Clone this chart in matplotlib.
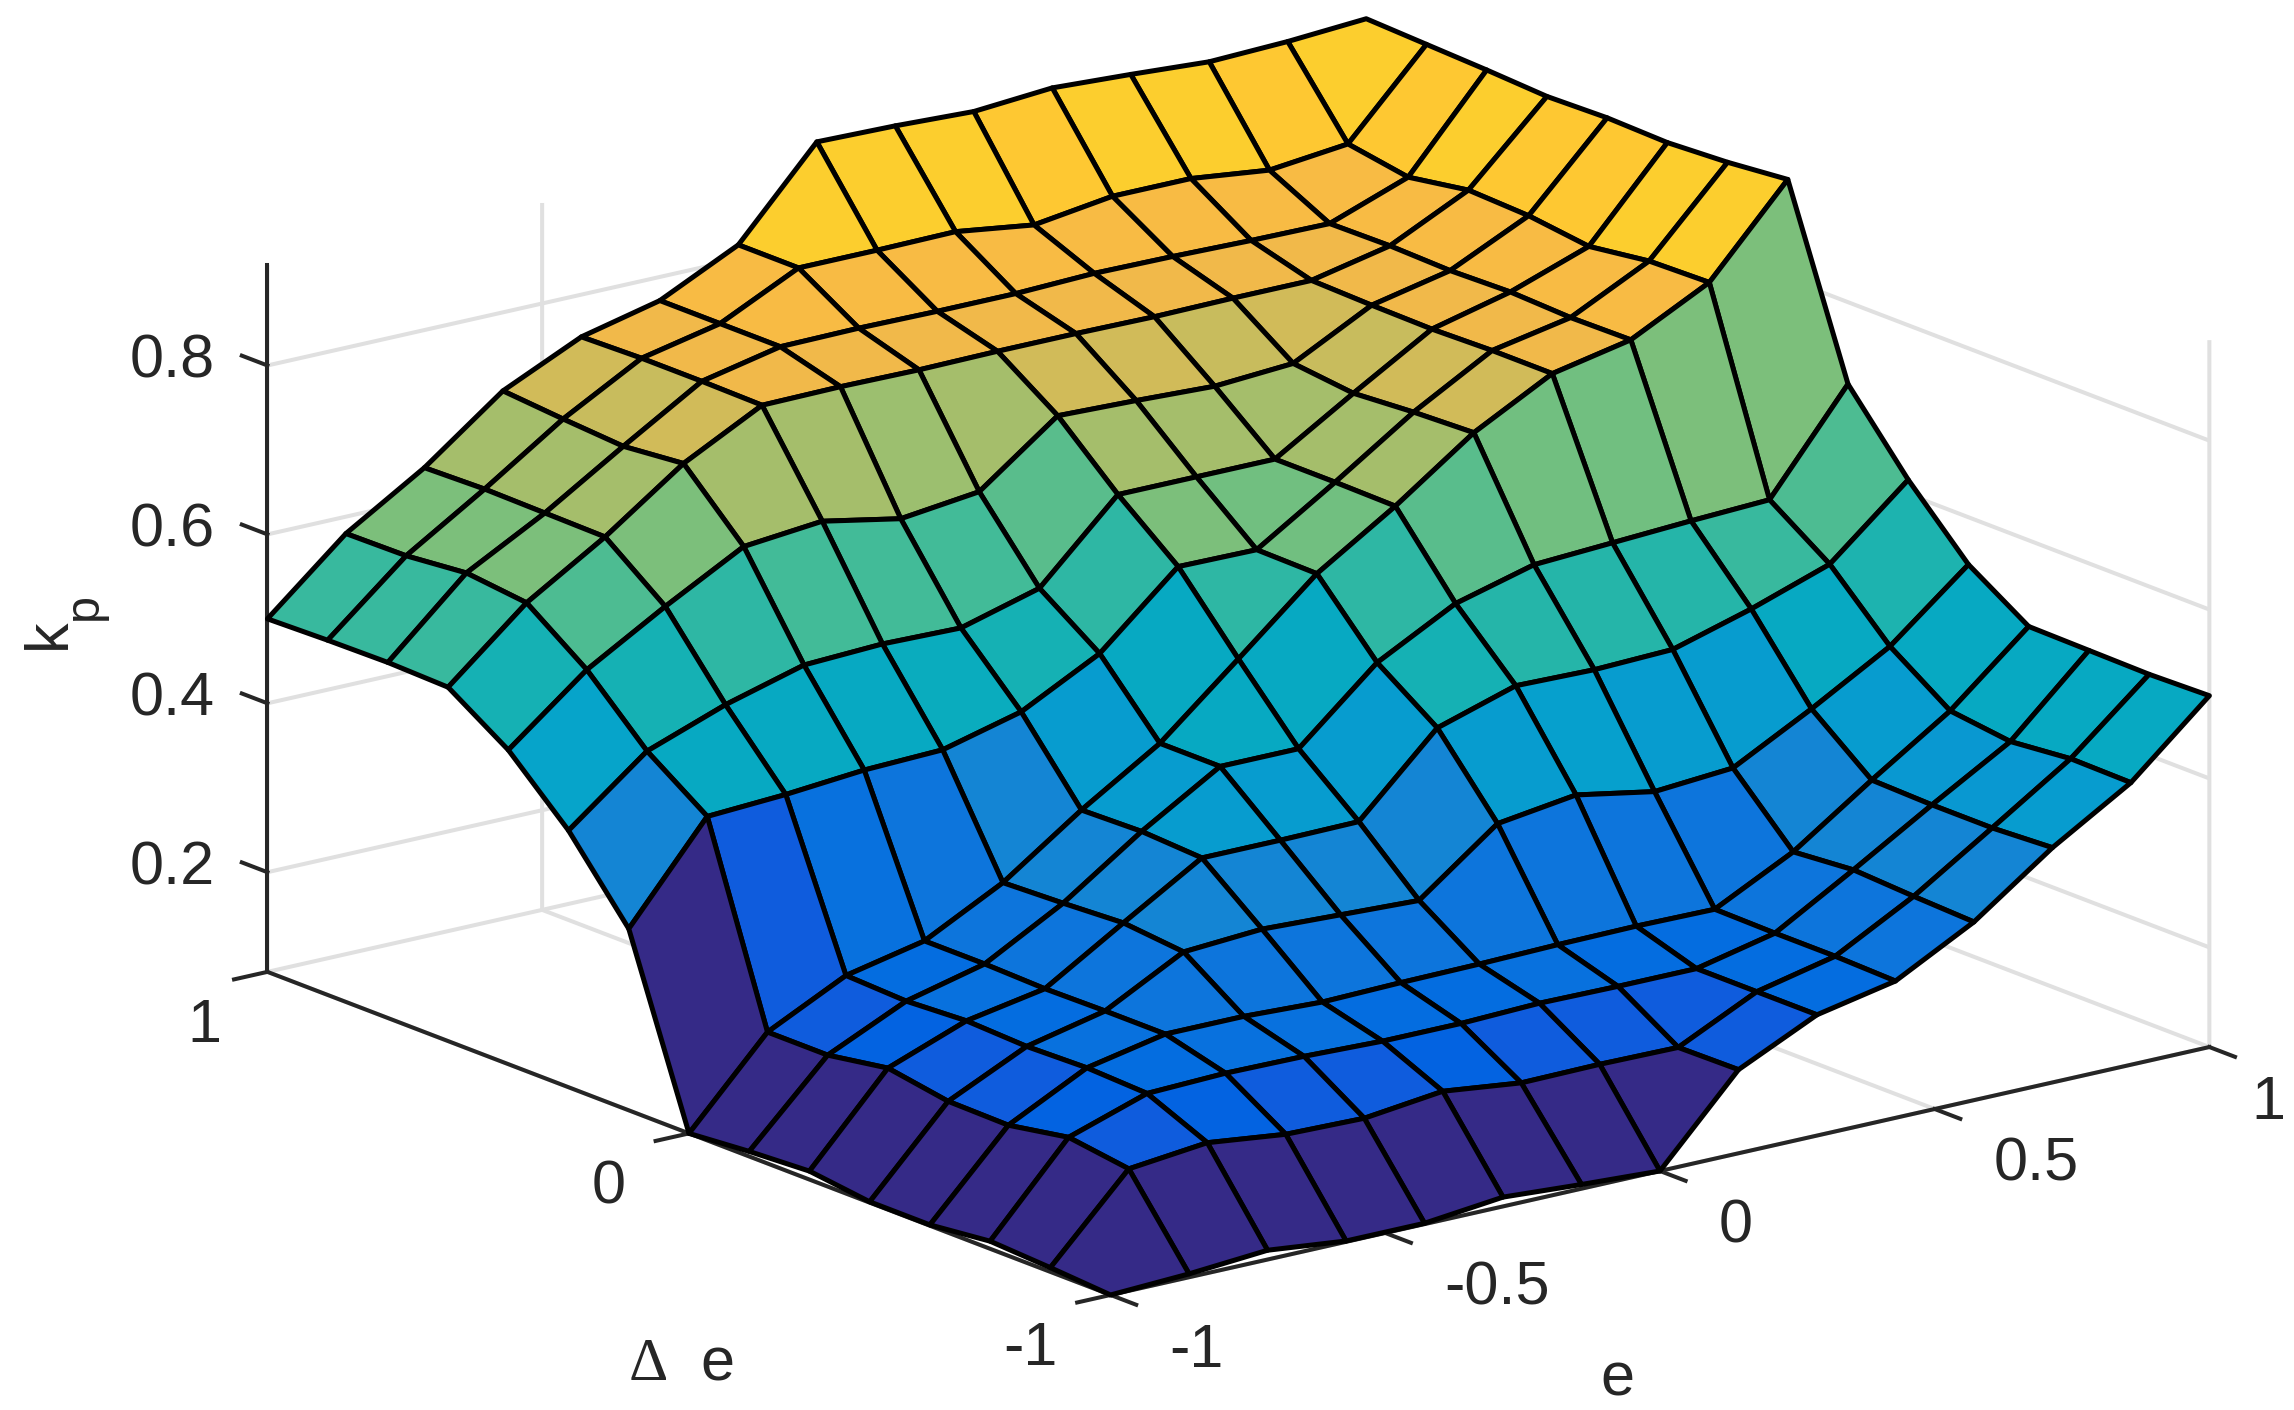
import numpy as np
import matplotlib
matplotlib.use('Agg')
from matplotlib import pyplot as plt
from matplotlib.colors import ListedColormap, Normalize

# kp, one row per delta e node, one column per e node
kp_00 = [.082, .086, .093, .083, .083, .093, .087, .082, .181, .225, .244, .293, .360, .416, .498]
kp_01 = [.087, .183, .193, .182, .180, .191, .180, .181, .180, .225, .246, .296, .356, .417, .496]
kp_02 = [.091, .193, .224, .227, .226, .223, .223, .226, .225, .225, .246, .300, .356, .410, .497]
kp_03 = [.083, .180, .227, .246, .246, .242, .244, .245, .247, .248, .247, .294, .358, .419, .498]
kp_04 = [.083, .181, .225, .246, .295, .301, .297, .293, .363, .376, .359, .366, .415, .468, .544]
kp_05 = [.092, .193, .228, .245, .302, .358, .358, .359, .449, .478, .476, .479, .506, .538, .617]
kp_06 = [.088, .181, .224, .247, .298, .362, .418, .418, .499, .548, .573, .578, .583, .587, .703]
kp_07 = [.082, .181, .227, .247, .295, .360, .418, .497, .577, .636, .702, .751, .770, .817, .918]
kp_08 = [.297, .409, .414, .422, .425, .449, .497, .579, .578, .637, .699, .751, .769, .815, .911]
kp_09 = [.386, .459, .493, .519, .523, .521, .547, .637, .637, .637, .694, .749, .772, .805, .907]
kp_10 = [.454, .528, .582, .632, .641, .623, .634, .703, .700, .696, .702, .750, .770, .814, .909]
kp_11 = [.501, .580, .637, .703, .751, .752, .751, .752, .752, .751, .752, .752, .772, .817, .907]
kp_12 = [.503, .588, .638, .696, .752, .772, .773, .772, .772, .775, .774, .772, .771, .805, .911]
kp_13 = [.502, .581, .639, .701, .752, .772, .817, .817, .818, .805, .818, .818, .807, .817, .914]
kp_14 = [.500, .580, .637, .707, .750, .772, .817, .918, .916, .912, .919, .914, .908, .911, .917]

e_ticks = [-1, -0.5, 0, 0.5, 1]
e_labels = ['-1', '-0.5', '0', '0.5', '1']
de_ticks = [-1, 0, 1]
de_labels = ['-1', '0', '1']
kp_ticks = [0.2, 0.4, 0.6, 0.8]
kp_labels = ['0.2', '0.4', '0.6', '0.8']

parula = [
    (.2081, .1663, .5292), (.2116, .1898, .5777), (.2123, .2138, .6270), (.2081, .2386, .6771),
    (.1959, .2645, .7279), (.1707, .2919, .7792), (.1253, .3242, .8303), (.0591, .3598, .8683),
    (.0117, .3875, .8820), (.0060, .4086, .8828), (.0165, .4266, .8786), (.0329, .4430, .8720),
    (.0498, .4586, .8641), (.0629, .4737, .8554), (.0723, .4887, .8467), (.0779, .5040, .8384),
    (.0793, .5200, .8312), (.0749, .5375, .8263), (.0641, .5570, .8240), (.0488, .5772, .8228),
    (.0343, .5966, .8199), (.0265, .6137, .8135), (.0239, .6287, .8038), (.0231, .6418, .7913),
    (.0228, .6535, .7768), (.0267, .6642, .7607), (.0384, .6743, .7436), (.0590, .6838, .7254),
    (.0843, .6928, .7062), (.1133, .7015, .6859), (.1453, .7098, .6646), (.1801, .7177, .6424),
    (.2178, .7250, .6193), (.2586, .7317, .5954), (.3022, .7376, .5712), (.3482, .7424, .5473),
    (.3953, .7459, .5244), (.4420, .7481, .5033), (.4871, .7491, .4840), (.5300, .7491, .4661),
    (.5709, .7485, .4494), (.6099, .7473, .4337), (.6473, .7456, .4188), (.6834, .7435, .4044),
    (.7184, .7411, .3905), (.7525, .7384, .3768), (.7858, .7356, .3633), (.8185, .7327, .3498),
    (.8507, .7299, .3360), (.8824, .7274, .3217), (.9139, .7258, .3063), (.9450, .7261, .2886),
    (.9739, .7314, .2666), (.9938, .7455, .2403), (.9990, .7653, .2164), (.9955, .7861, .1967),
    (.9880, .8066, .1794), (.9789, .8271, .1633), (.9697, .8481, .1475), (.9626, .8705, .1309),
    (.9589, .8949, .1132), (.9598, .9218, .0948), (.9661, .9514, .0755), (.9763, .9831, .0538),
]

INK = (.15, .15, .15)
GRID = (.88, .88, .88)

plt.rcParams['font.family'] = ['Liberation Sans', 'DejaVu Sans']
plt.rcParams['mathtext.fontset'] = 'custom'
plt.rcParams['mathtext.rm'] = 'Liberation Sans'
plt.rcParams['mathtext.tt'] = 'Liberation Serif'
plt.rcParams['mathtext.default'] = 'rm'
plt.rcParams['font.size'] = 44
plt.rcParams['grid.color'] = GRID
plt.rcParams['grid.linewidth'] = 2.9
plt.rcParams['xtick.major.width'] = 2.9
plt.rcParams['ytick.major.width'] = 2.9

kp = np.array([kp_00, kp_01, kp_02, kp_03, kp_04, kp_05, kp_06, kp_07,
               kp_08, kp_09, kp_10, kp_11, kp_12, kp_13, kp_14])
e_grid, de_grid = np.meshgrid(np.linspace(-1, 1, 15), np.linspace(-1, 1, 15))

fig = plt.figure(figsize=(22.94, 14.10), dpi=100)
ax = fig.add_axes([60.4 / 2294, -424 / 1410, 1, 2294 / 1410], projection='3d', proj_type='ortho')
ax.view_init(elev=17.1, azim=-127.5)
ax.set_box_aspect((1, 1, .534), zoom=.886)

# each face takes the colour of its first corner, as surf does
face_colors = ListedColormap(parula)(Normalize(kp.min(), kp.max())(kp))
ax.plot_surface(e_grid, de_grid, kp, facecolors=face_colors, rstride=1, cstride=1,
                shade=False, edgecolor='k', linewidth=3.6, antialiased=True)

ax.set_xlim(-1, 1, view_margin=0)
ax.set_ylim(-1, 1, view_margin=0)
ax.set_zlim(kp.min(), kp.max(), view_margin=0)
ax.set_xticks(e_ticks, labels=e_labels)
ax.set_yticks(de_ticks, labels=de_labels)
ax.set_zticks(kp_ticks, labels=kp_labels)
ax.tick_params(colors=INK, labelsize=44)
ax.tick_params(axis='x', pad=52)
ax.tick_params(axis='y', pad=55)
ax.tick_params(axis='z', pad=33)

for axis in (ax.xaxis, ax.yaxis, ax.zaxis):
    axis.set_pane_color((1, 1, 1, 0))
    axis.line.set_color(INK)
    axis.line.set_linewidth(2.9)

# ticks stick out of the box on the floor edges, towards +delta e on the kp axis
for axis in (ax.xaxis, ax.yaxis):
    axis._axinfo['tick']['inward_factor'] = .38
    axis._axinfo['tick']['outward_factor'] = 0
ax.zaxis._axinfo['tick']['inward_factor'] = 0
ax.zaxis._axinfo['tick']['outward_factor'] = .38
ax.zaxis._get_tickdir = lambda pos: 1
ax.zaxis._axmask = lambda: [True, False, False]

for lab in ax.get_xticklabels():
    lab.set_ha('left')
    lab.set_va('baseline')
for lab in ax.get_yticklabels():
    lab.set_ha('center')
    lab.set_va('baseline')
for lab in ax.get_zticklabels():
    lab.set_ha('right')
    lab.set_va('baseline')
ax.get_xticklabels()[-1].set_ha('center')
ax.get_yticklabels()[-1].set_ha('left')

fig.text(1617 / 2294, 1 - 1396 / 1410, 'e', color=INK, ha='center', va='baseline')
fig.text(681.5 / 2294, 1 - 1380 / 1410, r'$\mathtt{\Delta}\;$ e', color=INK, ha='center', va='baseline')
fig.text(49 / 2294, 1 - 634 / 1410, 'k', color=INK, ha='center', va='center', rotation=90)
fig.text(84 / 2294, 1 - 606.5 / 1410, 'p', color=INK, fontsize=35, ha='center', va='center', rotation=90)

fig.savefig('out.png', dpi=100)
